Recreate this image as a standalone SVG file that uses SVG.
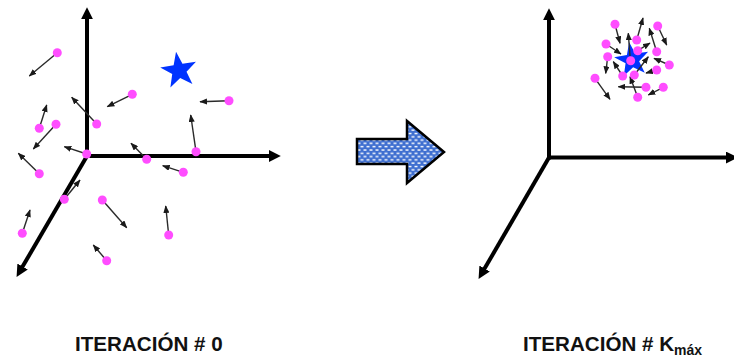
<svg xmlns="http://www.w3.org/2000/svg" width="734" height="358" viewBox="0 0 734 358">
<style>
.axis{stroke:#000;stroke-width:4;fill:none;marker-end:url(#ah)}
.v{stroke:#2a2a2a;stroke-width:1.4;fill:none;marker-end:url(#sh)}
.dot{fill:#ff4dff}
.star{fill:#0033ff}
.lbl{font-family:"Liberation Sans",Arial,sans-serif;font-weight:bold;font-size:20.6px;fill:#111}
</style>
<defs>
<marker id="ah" markerWidth="3" markerHeight="3" refX="0.3" refY="1.5" orient="auto" markerUnits="strokeWidth">
<path d="M0,0 L3,1.5 L0,3 z" fill="#000"/>
</marker>
<marker id="sh" markerWidth="5.5" markerHeight="4.4" refX="5" refY="2.2" orient="auto" markerUnits="strokeWidth">
<path d="M0,0 L5.5,2.2 L0,4.4 z" fill="#1a1a1a"/>
</marker>
<pattern id="dots" width="6" height="6.6" patternUnits="userSpaceOnUse">
<rect width="6" height="6.6" fill="#3f6fd0"/>
<rect x="0.5" y="0.8" width="3" height="1.4" fill="#fff"/>
<rect x="3.5" y="4.1" width="3" height="1.4" fill="#fff"/>
<rect x="-2.5" y="4.1" width="3" height="1.4" fill="#fff"/>
</pattern>
<polygon id="starshape" points="-2.97,-18.77 3.45,-6.77 16.93,-8.63 7.51,1.19 13.43,13.43 1.19,7.51 -8.63,16.93 -6.77,3.45 -18.77,-2.97 -5.37,-5.37"/>
</defs>

<g id="axes-left">
<line class="axis" x1="87" y1="158" x2="87" y2="18"/>
<line class="axis" x1="85" y1="156" x2="270" y2="156"/>
<line class="axis" x1="87" y1="156" x2="22" y2="267.6"/>
</g>

<g id="star-left"><use href="#starshape" class="star" transform="translate(179,70.5)"/></g>

<g id="particles-left">
<line class="v" x1="57.3" y1="52.7" x2="29.3" y2="76"/>
<line class="v" x1="132.3" y1="94.3" x2="107.3" y2="106.7"/>
<line class="v" x1="229" y1="100.7" x2="200" y2="101.7"/>
<line class="v" x1="96.7" y1="124" x2="71.7" y2="97.3"/>
<line class="v" x1="39.3" y1="128.3" x2="46.7" y2="105"/>
<line class="v" x1="56" y1="124.3" x2="33.3" y2="149"/>
<line class="v" x1="196" y1="151.7" x2="190.7" y2="115"/>
<line class="v" x1="86.7" y1="154" x2="64.3" y2="146.7"/>
<line class="v" x1="146.7" y1="159.3" x2="131" y2="143.3"/>
<line class="v" x1="39.3" y1="173.7" x2="18.3" y2="153.3"/>
<line class="v" x1="183.3" y1="172.3" x2="162.7" y2="165.7"/>
<line class="v" x1="64.3" y1="199.3" x2="80" y2="180"/>
<line class="v" x1="102.3" y1="200" x2="126.7" y2="227.7"/>
<line class="v" x1="22.3" y1="233.3" x2="30" y2="210"/>
<line class="v" x1="168.7" y1="235" x2="165.7" y2="206"/>
<line class="v" x1="106.7" y1="260.7" x2="93.3" y2="245"/>
<circle class="dot" cx="57.3" cy="52.7" r="4.5"/>
<circle class="dot" cx="132.3" cy="94.3" r="4.5"/>
<circle class="dot" cx="229" cy="100.7" r="4.5"/>
<circle class="dot" cx="96.7" cy="124" r="4.5"/>
<circle class="dot" cx="39.3" cy="128.3" r="4.5"/>
<circle class="dot" cx="56" cy="124.3" r="4.5"/>
<circle class="dot" cx="196" cy="151.7" r="4.5"/>
<circle class="dot" cx="86.7" cy="154" r="4.5"/>
<circle class="dot" cx="146.7" cy="159.3" r="4.5"/>
<circle class="dot" cx="39.3" cy="173.7" r="4.5"/>
<circle class="dot" cx="183.3" cy="172.3" r="4.5"/>
<circle class="dot" cx="64.3" cy="199.3" r="4.5"/>
<circle class="dot" cx="102.3" cy="200" r="4.5"/>
<circle class="dot" cx="22.3" cy="233.3" r="4.5"/>
<circle class="dot" cx="168.7" cy="235" r="4.5"/>
<circle class="dot" cx="106.7" cy="260.7" r="4.5"/>
</g>

<g id="block-arrow">
<polygon points="357,139 407,139 407,121 444,152 407,183 407,164 357,164" fill="url(#dots)" stroke="#000" stroke-width="2.5" stroke-linejoin="miter"/>
</g>

<g id="axes-right">
<line class="axis" x1="549" y1="159.5" x2="549" y2="19"/>
<line class="axis" x1="547" y1="157.5" x2="727" y2="157.5"/>
<line class="axis" x1="549" y1="157.5" x2="484" y2="269.6"/>
</g>

<g id="star-right"><use href="#starshape" class="star" transform="translate(632,60) scale(0.95)"/></g>

<g id="particles-right">
<line class="v" x1="615" y1="24.3" x2="620" y2="43.3"/>
<line class="v" x1="657.7" y1="26" x2="666.7" y2="45"/>
<line class="v" x1="606" y1="44" x2="621" y2="54"/>
<line class="v" x1="636.7" y1="40" x2="643" y2="18"/>
<line class="v" x1="630" y1="56" x2="628.3" y2="33.3"/>
<line class="v" x1="637.7" y1="50.7" x2="650" y2="43"/>
<line class="v" x1="656.7" y1="51.7" x2="649.3" y2="28.3"/>
<line class="v" x1="607.7" y1="56.7" x2="605.7" y2="73.3"/>
<line class="v" x1="669.3" y1="65" x2="654" y2="58.3"/>
<line class="v" x1="656.7" y1="70" x2="646" y2="73"/>
<line class="v" x1="595" y1="78.3" x2="610" y2="99.3"/>
<line class="v" x1="622.7" y1="76" x2="613.3" y2="61.7"/>
<line class="v" x1="634.3" y1="75" x2="648.3" y2="56.7"/>
<line class="v" x1="646" y1="87.3" x2="618.3" y2="86.7"/>
<line class="v" x1="663.3" y1="87.3" x2="648.3" y2="95"/>
<line class="v" x1="637.7" y1="97.3" x2="630" y2="76.7"/>
<circle class="dot" cx="615" cy="24.3" r="4.5"/>
<circle class="dot" cx="657.7" cy="26" r="4.5"/>
<circle class="dot" cx="606" cy="44" r="4.5"/>
<circle class="dot" cx="636.7" cy="40" r="4.5"/>
<circle class="dot" cx="607.7" cy="56.7" r="4.5"/>
<circle class="dot" cx="637.7" cy="50.7" r="4.5"/>
<circle class="dot" cx="656.7" cy="51.7" r="4.5"/>
<circle class="dot" cx="630.7" cy="60.7" r="4.5"/>
<circle class="dot" cx="669.3" cy="65" r="4.5"/>
<circle class="dot" cx="656.7" cy="70" r="4.5"/>
<circle class="dot" cx="595" cy="78.3" r="4.5"/>
<circle class="dot" cx="622.7" cy="76" r="4.5"/>
<circle class="dot" cx="634.3" cy="75" r="4.5"/>
<circle class="dot" cx="646" cy="87.3" r="4.5"/>
<circle class="dot" cx="663.3" cy="87.3" r="4.5"/>
<circle class="dot" cx="637.7" cy="97.3" r="4.5"/>
</g>

<g id="labels">
<text class="lbl" x="75" y="350.5">ITERACIÓN # 0</text>
<text class="lbl" x="523" y="350.5">ITERACIÓN # K<tspan font-size="14" dy="4">máx</tspan></text>
</g>
</svg>
